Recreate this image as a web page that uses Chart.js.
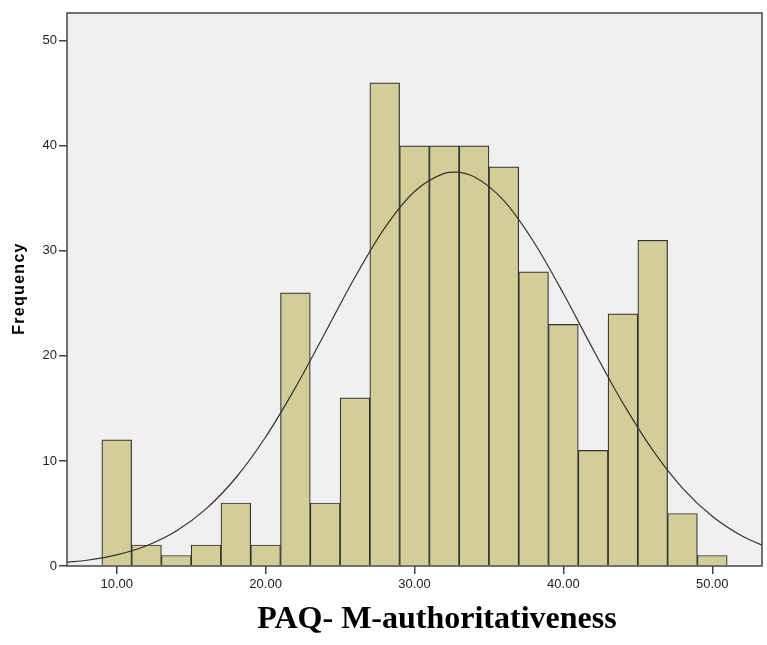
<!DOCTYPE html>
<html><head><meta charset="utf-8">
<script src="https://cdn.jsdelivr.net/npm/chart.js@4"></script>
<style>html,body{margin:0;padding:0;background:#fff}#wrap{width:767px;height:645px}</style>
</head><body><div id="wrap"><canvas id="c" width="767" height="645"></canvas></div>
<script>
const binCenters = [10,12,14,16,18,20,22,24,26,28,30,32,34,36,38,40,42,44,46,48,50];
const frequencies = [12,2,1,2,6,2,26,6,16,46,40,40,40,38,28,23,11,24,31,5,1];
const curveX = [6.66,8,10,12,14,16,18,20,22,24,26,28,30,32,32.7,34,36,38,40,42,44,46,48,50,52,53.34];
const curveY = [0.35,0.55,1.06,1.93,3.33,5.44,8.4,12.28,16.98,22.21,27.48,32.18,35.65,37.37,37.5,37.06,34.78,30.87,25.94,20.61,15.5,11.03,7.42,4.73,2.85,1.99];
const xTicks = [10,20,30,40,50];
const yTicks = [0,10,20,30,40,50];
const xTitle = 'PAQ- M-authoritativeness';
const yTitle = 'Frequency';

const frame = {
  id:'frame',
  beforeDatasetsDraw(chart){
    const {ctx, chartArea:a} = chart;
    ctx.save(); ctx.fillStyle='#f0f0f0'; ctx.fillRect(a.left,a.top,a.right-a.left,a.bottom-a.top); ctx.restore();
  },
  afterDraw(chart){
    const {ctx, chartArea:a} = chart;
    ctx.save(); ctx.strokeStyle='#444'; ctx.lineWidth=1.5;
    ctx.strokeRect(a.left,a.top,a.right-a.left,a.bottom-a.top);
    ctx.fillStyle='#000'; ctx.font='bold 32px "Liberation Serif", "Times New Roman", serif';
    ctx.textAlign='center'; ctx.textBaseline='middle';
    ctx.fillText(xTitle, 437, 620);
    ctx.translate(20, (a.top+a.bottom)/2); ctx.rotate(-Math.PI/2);
    ctx.font='bold 16px Arial, "Liberation Sans", sans-serif';
    ctx.letterSpacing='1.3px';
    ctx.fillText(yTitle, 1, 0);
    ctx.restore();
  }
};

new Chart(document.getElementById('c'), {
  data:{
    datasets:[
      {type:'line', data:curveX.map((x,i)=>({x, y:curveY[i]})), borderColor:'#333', borderWidth:1.2, pointRadius:0, fill:false, cubicInterpolationMode:'monotone', order:0},
      {type:'bar', data:binCenters.map((x,i)=>({x, y:frequencies[i]})), backgroundColor:'#d3ce97', borderColor:'#333', borderWidth:1.2, barPercentage:1, categoryPercentage:1, order:1}
    ]
  },
  options:{
    responsive:false, animation:false,
    layout:{padding:{left:0,right:5,top:13,bottom:0}},
    plugins:{legend:{display:false}, tooltip:{enabled:false}},
    scales:{
      x:{type:'linear', min:6.66, max:53.34, offset:false,
        afterBuildTicks(s){ s.ticks = xTicks.map(v=>({value:v})); },
        afterFit(s){ s.height = 79; },
        grid:{display:true, offset:false, drawOnChartArea:false, drawTicks:true, tickLength:8, color:'#444', lineWidth:1.5},
        border:{display:false},
        ticks:{color:'#222', font:{family:'Arial, "Liberation Sans", sans-serif', size:13}, padding:3, maxRotation:0, callback:v=>Number(v).toFixed(2)}
      },
      y:{type:'linear', min:0, max:52.64,
        afterBuildTicks(s){ s.ticks = yTicks.map(v=>({value:v})); },
        afterFit(s){ s.width = 67; },
        grid:{display:true, drawOnChartArea:false, drawTicks:true, tickLength:8, color:'#444', lineWidth:1.5},
        border:{display:false},
        ticks:{color:'#222', font:{family:'Arial, "Liberation Sans", sans-serif', size:13}, padding:2}
      }
    }
  },
  plugins:[frame]
});
</script></body></html>
